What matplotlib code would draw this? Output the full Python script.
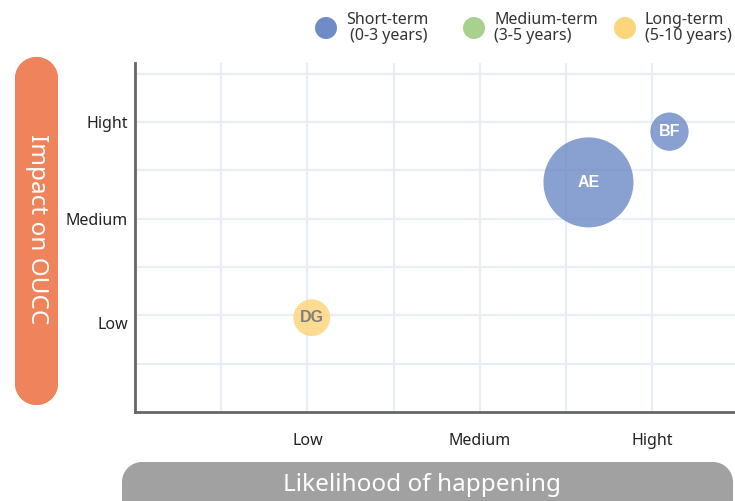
import matplotlib.pyplot as plt
from matplotlib.patches import Rectangle, Circle

plt.rcParams['font.family'] = ['Noto Sans', 'DejaVu Sans']

# bubble data
names = ['DG', 'AE', 'BF']
likelihood = [2.05, 5.26, 6.2]
impact = [1.95, 4.75, 5.8]
sizes = [700, 4200, 760]
terms = ['long', 'short', 'short']

term_labels = ['Short-term\n (0-3 years)', 'Medium-term\n(3-5 years)', 'Long-term\n(5-10 years)']
term_keys = ['short', 'medium', 'long']
term_colors = {'short': '#6f8cc6', 'medium': '#a9d18e', 'long': '#fdd57a'}
text_colors = {'short': 'white', 'medium': 'white', 'long': '#7f7f7f'}

x_ticks = [2, 4, 6]
x_labels = ['Low', 'Medium', 'Hight']
y_ticks = [1.85, 4, 6]
y_labels = ['Low', 'Medium', 'Hight']


def rounded_box(fig, x, y, w, h, r, color):
    # rectangle with true circular corners, in inches
    tr = fig.dpi_scale_trans
    fig.add_artist(Rectangle((x + r, y), w - 2 * r, h, transform=tr, facecolor=color, edgecolor='none'))
    fig.add_artist(Rectangle((x, y + r), w, h - 2 * r, transform=tr, facecolor=color, edgecolor='none'))
    for cx in (x + r, x + w - r):
        for cy in (y + r, y + h - r):
            fig.add_artist(Circle((cx, cy), r, transform=tr, facecolor=color, edgecolor='none'))


fig = plt.figure(figsize=(7.35, 5.01), dpi=100)
ax = fig.add_axes([135 / 735, 89 / 501, 600 / 735, 349 / 501])

ax.set_xlim(0, 6.96)
ax.set_ylim(0, 7.22)

# grid lines on every unit
for i in range(1, 7):
    ax.axvline(i, color='#e9edf6', lw=1.6, zorder=0)
for i in range(1, 8):
    ax.axhline(i, color='#e9edf6', lw=1.6, zorder=0)

for n, x, y, s, t in zip(names, likelihood, impact, sizes, terms):
    ax.scatter(x, y, s=s, color=term_colors[t], alpha=0.82, edgecolors='none', zorder=3)
    ax.text(x, y, n, ha='center', va='center', color=text_colors[t],
            fontsize=11.5, fontweight='bold', family=['Liberation Sans'], zorder=4)

ax.set_xticks(x_ticks)
ax.set_xticklabels(x_labels, fontsize=11.5, color='#222222')
ax.set_yticks(y_ticks)
ax.set_yticklabels(y_labels, fontsize=11.5, color='#222222')
ax.tick_params(axis='x', length=0, pad=15)
ax.tick_params(axis='y', length=0, pad=5)

for side in ['top', 'right']:
    ax.spines[side].set_visible(False)
for side in ['left', 'bottom']:
    ax.spines[side].set_color('#666666')
    ax.spines[side].set_linewidth(2)

# axis title boxes
tr = fig.dpi_scale_trans
rounded_box(fig, 0.15, 0.96, 0.43, 3.48, 0.215, '#ef845c')
fig.text(0.365, 2.72, 'Impact on OUCC', transform=tr, rotation=-90,
         ha='center', va='center', color='white', fontsize=17.5)

rounded_box(fig, 1.22, -0.3, 6.11, 0.69, 0.2, '#a0a1a0')
fig.text(4.22, 0.16, 'Likelihood of happening', transform=tr,
         ha='center', va='center', color='white', fontsize=17.5)

# legend
legend_x = [3.26, 4.74, 6.25]
for lx, key, lab in zip(legend_x, term_keys, term_labels):
    fig.add_artist(Circle((lx, 4.73), 0.11, transform=tr,
                          facecolor=term_colors[key], edgecolor='none'))
    fig.text(lx + 0.2, 4.73, lab, transform=tr, ha='left', va='center',
             fontsize=11.5, color='#333333', linespacing=1.0)

fig.savefig('out.png', dpi=100)
